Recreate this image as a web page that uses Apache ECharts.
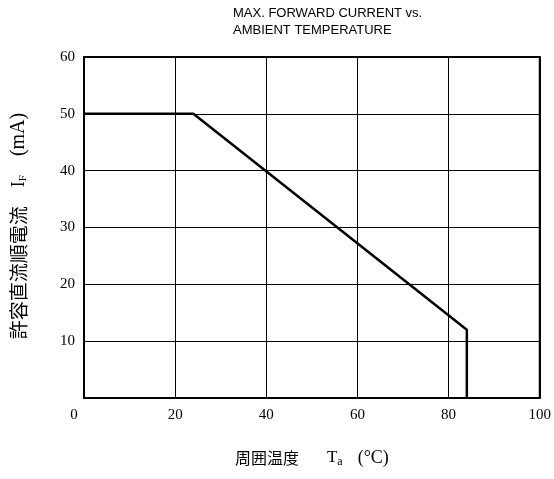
<!DOCTYPE html>
<html>
<head>
<meta charset="utf-8">
<script src="https://cdn.jsdelivr.net/npm/echarts@6/dist/echarts.min.js"></script>
<style>
  html, body { margin: 0; padding: 0; background: #fff; }
</style>
</head>
<body>
<div id="chart" style="width:554px;height:479px;"></div>
<script>
// derating curve: max forward current vs ambient temperature
var tempValues = [0, 24, 84, 84];
var currentValues = [50, 50, 12, 0];
var xTicks = [0, 20, 40, 60, 80, 100];
var yTicks = [0, 10, 20, 30, 40, 50, 60];

var serif = '"Liberation Serif", "DejaVu Serif", serif';
var cjk = '"Noto Sans CJK JP", "Noto Sans CJK SC", sans-serif';

var chart = echarts.init(document.getElementById('chart'));
var option = {
  animation: false,
  backgroundColor: '#fff',
  title: {
    text: 'MAX. FORWARD CURRENT vs.\nAMBIENT TEMPERATURE',
    left: 228,
    top: 0,
    textStyle: {
      fontFamily: '"Liberation Sans", Arial, sans-serif',
      fontWeight: 'normal',
      fontSize: 13,
      lineHeight: 17,
      color: '#000'
    }
  },
  grid: {
    left: 84,
    right: 12,
    top: 57,
    bottom: 81,
    show: true,
    borderColor: '#000',
    borderWidth: 2
  },
  xAxis: {
    type: 'value',
    min: xTicks[0],
    max: xTicks[xTicks.length - 1],
    interval: 20,
    axisLine: { show: false },
    axisTick: { show: false },
    splitLine: { lineStyle: { color: '#000', width: 1 } },
    axisLabel: {
      margin: 10,
      fontFamily: serif,
      fontSize: 15,
      color: '#000',
      formatter: function (v) { return v === 0 ? '{z|0}' : String(v); },
      rich: { z: { fontFamily: serif, fontSize: 15, color: '#000', padding: [0, 20, 0, 0] } }
    },
    name: '{c|周囲温度}{g| }{t|T}{s|a}{h| }{p|(°C)}',
    nameLocation: 'middle',
    nameGap: 50,
    nameTextStyle: {
      rich: {
        c: { fontFamily: cjk, fontSize: 16, color: '#000' },
        g: { width: 28 },
        t: { fontFamily: serif, fontSize: 17, color: '#000' },
        s: { fontFamily: serif, fontSize: 12, color: '#000', padding: [8, 0, 0, 0] },
        h: { width: 15 },
        p: { fontFamily: serif, fontSize: 18, color: '#000' }
      }
    }
  },
  yAxis: {
    type: 'value',
    min: yTicks[0],
    max: yTicks[yTicks.length - 1],
    interval: 10,
    axisLine: { show: false },
    axisTick: { show: false },
    splitLine: { lineStyle: { color: '#000', width: 1 } },
    axisLabel: {
      margin: 9,
      fontFamily: serif,
      fontSize: 15,
      color: '#000',
      formatter: function (v) { return v === 0 ? '' : String(v); }
    }
  },
  graphic: [
    {
      type: 'text',
      x: 19,
      y: 226,
      rotation: Math.PI / 2,
      style: {
        text: '{c|許容直流順電流}{g| }{t|I}{s|F}{g| }{p|(mA)}',
        align: 'center',
        verticalAlign: 'middle',
        rich: {
          c: { fontFamily: cjk, fontSize: 19, fill: '#000' },
          g: { width: 19 },
          t: { fontFamily: serif, fontSize: 18, fill: '#000' },
          s: { fontFamily: serif, fontSize: 11, fill: '#000', padding: [9, 0, 0, 0] },
          p: { fontFamily: serif, fontSize: 20, fill: '#000' }
        }
      }
    }
  ],
  series: [
    {
      type: 'line',
      data: tempValues.map(function (t, i) { return [t, currentValues[i]]; }),
      symbol: 'none',
      lineStyle: { color: '#000', width: 2.5 }
    }
  ]
};
chart.setOption(option);
</script>
</body>
</html>
